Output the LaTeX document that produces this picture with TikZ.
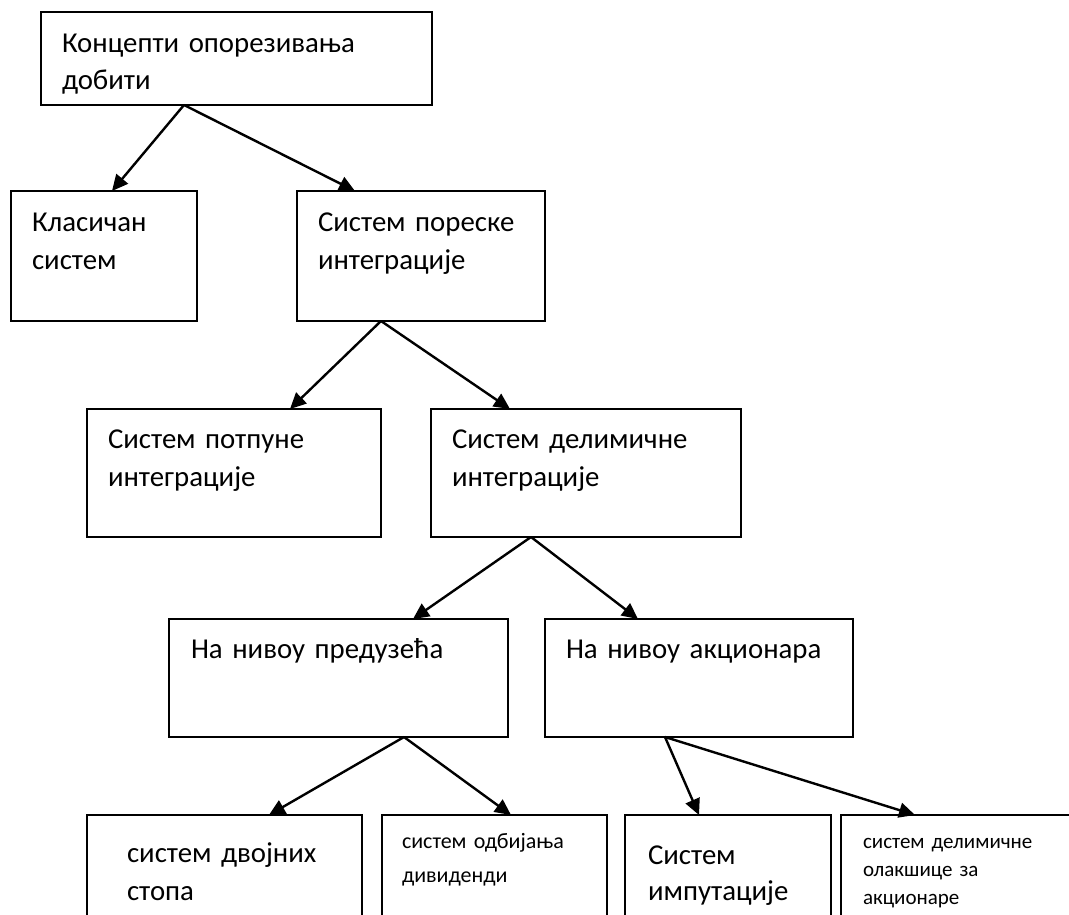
\documentclass[tikz,border=0pt]{standalone}
\usepackage{fontspec}
\setmainfont{Carlito}
\usetikzlibrary{arrows.meta}
\tikzset{
  cell/.style={draw, line width=2pt, anchor=north west, outer sep=0pt,
               inner xsep=21pt, inner ysep=0pt, align=left,
               font=\fontsize{28.8pt}{38pt}\selectfont},
  smalltxt/.style={font=\fontsize{21pt}{28pt}\selectfont},
  midtxt/.style={font=\fontsize{22pt}{34pt}\selectfont},
  arrow/.style={-{Triangle[length=16pt,width=15pt]}, line width=2.4pt}
}

\begin{document}
\begin{tikzpicture}[x=1pt, y=-1pt]
  \useasboundingbox (0,0) rectangle (1069,915);

  \node[cell, text width=349pt, text height=41pt, text depth=52pt,
        font=\fontsize{28.8pt}{37pt}\selectfont] (concepts) at (41,12)
    {Концепти опорезивања\\добити};
  \node[cell, text width=144pt, text height=41pt, text depth=89pt] (classic) at (11,191)
    {Класичан\\систем};
  \node[cell, text width=206pt, text height=41pt, text depth=89pt] (integr) at (297,191)
    {Систем пореске\\интеграције};
  \node[cell, text width=252pt, text height=39pt, text depth=89pt] (full) at (87,409)
    {Систем потпуне\\интеграције};
  \node[cell, text width=268pt, text height=39pt, text depth=89pt] (partial) at (431,409)
    {Систем делимичне\\интеграције};
  \node[cell, text width=295pt, inner xsep=22pt, text height=39pt, text depth=79pt] (firm) at (169,619)
    {На нивоу предузећа};
  \node[cell, text width=266pt, text height=39pt, text depth=79pt] (holder) at (545,619)
    {На нивоу акционара};
  \node[cell, text width=195pt, inner xsep=40pt, text height=47pt, text depth=93pt] (split) at (87,815)
    {систем двојних\\стопа};
  \node[cell, midtxt, text width=185pt, inner xsep=20pt, text height=33pt, text depth=107pt] (dividend) at (382,815)
    {систем одбијања\\дивиденди};
  \node[cell, text width=160pt, inner xsep=23pt, text height=49pt, text depth=91pt,
        font=\fontsize{28.8pt}{36pt}\selectfont] (imput) at (625,815)
    {Систем\\импутације};
  \node[cell, smalltxt, text width=196pt, inner xsep=22pt, text height=33pt, text depth=107pt] (relief) at (841,815)
    {систем делимичне\\олакшице за\\акционаре};

  \draw[arrow] ([xshift=143]concepts.south west) -- ([xshift=101]classic.north west);
  \draw[arrow] ([xshift=143]concepts.south west) -- ([xshift=58]integr.north west);
  \draw[arrow] ([xshift=84]integr.south west) -- ([xshift=203]full.north west);
  \draw[arrow] ([xshift=84]integr.south west) -- ([xshift=79]partial.north west);
  \draw[arrow] ([xshift=100]partial.south west) -- ([xshift=244]firm.north west);
  \draw[arrow] ([xshift=100]partial.south west) -- ([xshift=93]holder.north west);
  \draw[arrow] ([xshift=235]firm.south west) -- ([xshift=182]split.north west);
  \draw[arrow] ([xshift=235]firm.south west) -- ([xshift=129]dividend.north west);
  \draw[arrow] ([xshift=120]holder.south west) -- ([xshift=74]imput.north west);
  \draw[arrow] ([xshift=120]holder.south west) -- ([xshift=74]relief.north west);
\end{tikzpicture}
\end{document}
